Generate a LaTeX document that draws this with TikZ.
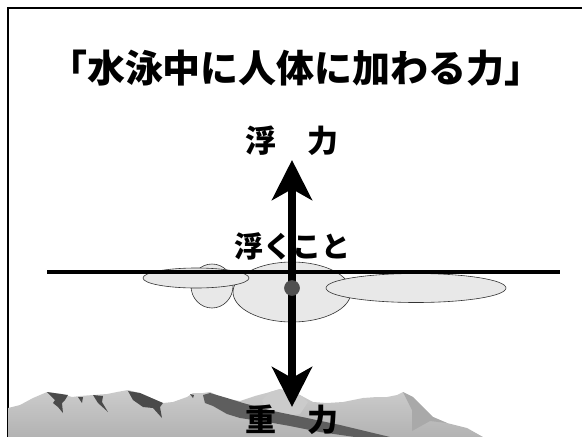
\documentclass[tikz,border=0pt]{standalone}
\usepackage{fontspec}
\newfontfamily\cjk{Noto Sans CJK JP}
\usetikzlibrary{arrows.meta}
\definecolor{bodygray}{HTML}{E8E8E8}
\definecolor{dotgray}{HTML}{505050}
\definecolor{rockdark}{HTML}{4A4A4A}
\definecolor{rockband}{HTML}{5E5E5E}
\definecolor{rockmid}{HTML}{A9A9A9}
\definecolor{rocklight}{HTML}{CBCBCB}
\tikzset{
	jtext/.style={font=\cjk\bfseries\fontsize{#1}{#1}\selectfont, inner sep=0pt},
	part/.style={fill=bodygray, draw=black!80, line width=0.6pt},
	force/.style={line width=7.5pt, {Stealth[length=40pt,width=40pt,inset=11pt]}-{Stealth[length=40pt,width=40pt,inset=11pt]}}
}
\begin{document}
\begin{tikzpicture}[x=1pt,y=-1pt]
	\useasboundingbox (0,0) rectangle (582,437);
	% slide frame
	\draw[line width=2pt] (7.5,437) -- (7.5,8) -- (582,8);
	% title
	\node[jtext=38] (title) at (296,68) {「水泳中に人体に加わる力」};
	% mountains
	\shade[top color=black!20, bottom color=black!30] (8,408) -- (20,405) -- (33,398) -- (47,392) -- (62,394) -- (72,397) -- (80,396) -- (93,395) -- (107,394) -- (117,392) -- (128,390) -- (140,393) -- (163,403) -- (173,402) -- (187,397) -- (193,393) -- (203,393) -- (210,392) -- (223,398) -- (240,401) -- (255,396) -- (270,392) -- (280,389) -- (300,395) -- (313,402) -- (327,403) -- (343,402) -- (363,398) -- (377,397) -- (387,397) -- (397,395) -- (403,392) -- (413,397) -- (423,407) -- (433,417) -- (447,423) -- (467,428) -- (483,437) -- (8,437) -- cycle;
	\fill[rocklight] (262,400) -- (270,392) -- (280,389) -- (300,395) -- (308,402) -- (300,414) -- (276,418) -- (266,410) -- cycle;
	\fill[rockmid] (403,392) -- (413,397) -- (423,407) -- (433,417) -- (447,423) -- (430,421) -- (412,431) -- (412,410) -- cycle;
	\fill[rockdark] (47,392) -- (68,395) -- (65,400) -- (62,403) -- (63,413) -- (58,407) -- (53,403) -- (55,400) -- (50,395) -- cycle;
	\fill[rockdark] (78,397) -- (83,397) -- (82,403) -- cycle;
	\fill[rockdark] (93,395) -- (103,396) -- (102,402) -- (108,412) -- (98,403) -- cycle;
	\fill[rockdark] (128,391) -- (140,393) -- (163,403) -- (160,407) -- (162,418) -- (153,408) -- (143,407) -- (133,400) -- cycle;
	\fill[rockdark] (190,394) -- (194,395) -- (193,398) -- cycle;
	\fill[rockband] (203,395) -- (210,393) -- (227,398) -- (243,403) -- (273,411) -- (307,418) -- (340,425) -- (390,437) -- (355,437) -- (320,432) -- (290,426) -- (273,423) -- (240,418) -- (227,414) -- (213,406) -- (205,403) -- cycle;
	% floating body
	\draw[part] (212,286) ellipse (21 and 22);
	\draw[part] (292,292) ellipse (59 and 30);
	\draw[part] (196,278) ellipse (53 and 10);
	\draw[part] (416,288) ellipse (90 and 14.5);
	% water surface
	\coordinate (wl) at (47,272);
	\coordinate (wr) at (560,272);
	\draw[line width=4pt] (wl) -- (wr);
	% labels
	\node[jtext=29] (float) at (292,246) {浮くこと};
	\node[jtext=31] (buoy) at (292,141) {浮\hspace{1em}力};
	% buoyancy and gravity
	\coordinate (up) at (292,160);
	\coordinate (down) at (292,407);
	\draw[force] (down) -- (up);
	\node[circle, fill=dotgray, draw=black!70, line width=0.6pt, minimum size=15pt, inner sep=0pt] (cg) at (292,288) {};
	\node[jtext=31] (grav) at (292,420) {重\hspace{1em}力};
\end{tikzpicture}
\end{document}
